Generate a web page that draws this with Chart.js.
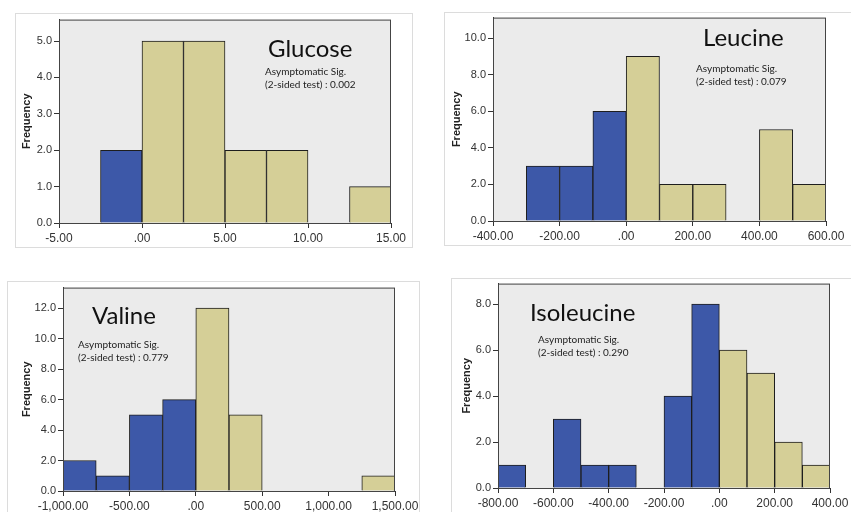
<!DOCTYPE html>
<html>
<head>
<meta charset="utf-8">
<script src="https://cdn.jsdelivr.net/npm/chart.js@4.4.1/dist/chart.umd.min.js"></script>
<style>
  body { margin: 0; background: #fff; width: 851px; height: 512px; overflow: hidden; position: relative; }
  canvas { position: absolute; }
  .frame { position: absolute; border: 1px solid #dcdcdc; }
  .name { position: absolute; font-family: Lato, sans-serif; font-size: 24px; line-height: 28px; color: #111; white-space: nowrap; }
  .sig { position: absolute; font-family: Lato, sans-serif; font-size: 10px; line-height: 13px; color: #222; white-space: nowrap; }
</style>
</head>
<body>
<div class="frame" style="left:15px;top:13px;width:396px;height:233px"></div>
<div class="frame" style="left:444px;top:12px;width:420px;height:232px"></div>
<div class="frame" style="left:7px;top:281px;width:411px;height:240px"></div>
<div class="frame" style="left:451px;top:278px;width:420px;height:240px"></div>

<canvas id="glucose"></canvas>
<canvas id="leucine"></canvas>
<canvas id="valine"></canvas>
<canvas id="isoleucine"></canvas>

<div class="name" style="left:268px;top:34px">Glucose</div>
<div class="sig" style="left:265px;top:65px">Asymptomatic Sig.<br>(2-sided test) : 0.002</div>
<div class="name" style="left:703px;top:23px">Leucine</div>
<div class="sig" style="left:696px;top:62px">Asymptomatic Sig.<br>(2-sided test) : 0.079</div>
<div class="name" style="left:92px;top:301px">Valine</div>
<div class="sig" style="left:78px;top:338px">Asymptomatic Sig.<br>(2-sided test) : 0.779</div>
<div class="name" style="left:530px;top:298px">Isoleucine</div>
<div class="sig" style="left:538px;top:333px">Asymptomatic Sig.<br>(2-sided test) : 0.290</div>

<script>
// histogram bins: left edge of each bin, bin width, and counts
var glucoseStarts = [-2.5, 0, 2.5, 5, 7.5, 10, 12.5];
var glucoseWidth = 2.5;
var glucoseCounts = [2, 5, 5, 2, 2, 0, 1];
var glucoseXTicks = [-5, 0, 5, 10, 15];
var glucoseYTicks = [0, 1, 2, 3, 4, 5];

var leucineStarts = [-300, -200, -100, 0, 100, 200, 300, 400, 500];
var leucineWidth = 100;
var leucineCounts = [3, 3, 6, 9, 2, 2, 0, 5, 2];
var leucineXTicks = [-400, -200, 0, 200, 400, 600];
var leucineYTicks = [0, 2, 4, 6, 8, 10];

var valineStarts = [-1000, -750, -500, -250, 0, 250, 500, 750, 1000, 1250];
var valineWidth = 250;
var valineCounts = [2, 1, 5, 6, 12, 5, 0, 0, 0, 1];
var valineXTicks = [-1000, -500, 0, 500, 1000, 1500];
var valineYTicks = [0, 2, 4, 6, 8, 10, 12];

var isoleucineStarts = [-800, -700, -600, -500, -400, -300, -200, -100, 0, 100, 200, 300];
var isoleucineWidth = 100;
var isoleucineCounts = [1, 0, 3, 1, 1, 0, 4, 8, 6, 5, 2, 1];
var isoleucineXTicks = [-800, -600, -400, -200, 0, 200, 400];
var isoleucineYTicks = [0, 2, 4, 6, 8];

var blue = '#3d58a8';
var tan = '#d5cf97';

function fmtX(v) {
  var s = Math.abs(v).toFixed(2).replace(/\B(?=(\d{3})+(?!\d))/g, ',');
  if (s.indexOf('0.') === 0) s = s.slice(1);
  return (v < 0 ? '-' : '') + s;
}

var plotBox = {
  id: 'plotBox',
  beforeDraw: function (chart) {
    var a = chart.chartArea, c = chart.ctx;
    c.save();
    c.fillStyle = '#ebebeb';
    c.fillRect(a.left, a.top, a.right - a.left, a.bottom - a.top);
    c.restore();
  },
  afterDatasetsDraw: function (chart) {
    var a = chart.chartArea, c = chart.ctx;
    c.save();
    c.strokeStyle = '#444';
    c.lineWidth = 1;
    c.strokeRect(a.left + 0.5, a.top + 0.5, a.right - a.left - 1, a.bottom - a.top);
    c.restore();
  }
};

// box = plot area in page pixels, titleX = centre of the "Frequency" label
function buildChart(id, starts, width, counts, xTicks, yTicks, yMax, box, titleX) {
  var left = titleX - 7, top = box.t - 4;
  var cw = box.r + 40 - left, ch = box.b + 28 - top;
  var el = document.getElementById(id);
  el.width = cw; el.height = ch;
  el.style.left = left + 'px'; el.style.top = top + 'px';

  var points = [], colors = [];
  for (var i = 0; i < starts.length; i++) {
    points.push({ x: starts[i] + width / 2, y: counts[i] });
    colors.push(starts[i] < 0 ? blue : tan);
  }

  new Chart(el, {
    type: 'bar',
    data: {
      datasets: [{
        data: points,
        backgroundColor: colors,
        borderColor: '#1e1e1e',
        borderWidth: 1,
        barPercentage: 1,
        categoryPercentage: 1
      }]
    },
    options: {
      responsive: false,
      animation: false,
      layout: { padding: { top: 4, right: 40, left: 0, bottom: 0 } },
      plugins: { legend: { display: false }, tooltip: { enabled: false } },
      scales: {
        x: {
          type: 'linear',
          offset: false,
          min: xTicks[0],
          max: xTicks[xTicks.length - 1],
          afterBuildTicks: function (s) { s.ticks = xTicks.map(function (v) { return { value: v }; }); },
          afterFit: function (s) { s.height = 28; },
          grid: { offset: false, drawOnChartArea: false, tickLength: 5, color: '#333' },
          border: { color: '#333' },
          ticks: {
            autoSkip: false, maxRotation: 0, padding: 3,
            color: '#333', font: { family: 'Liberation Sans', size: 12 },
            callback: function (v) { return fmtX(v); }
          }
        },
        y: {
          min: 0,
          max: yMax,
          afterBuildTicks: function (s) { s.ticks = yTicks.map(function (v) { return { value: v }; }); },
          afterFit: function (s) { s.width = box.l - left; },
          grid: { drawOnChartArea: false, tickLength: 5, color: '#333' },
          border: { color: '#333' },
          title: {
            display: true, text: 'Frequency', color: '#222',
            padding: { top: 0, bottom: 0 },
            font: { family: 'Liberation Sans', size: 11, weight: 'bold' }
          },
          ticks: {
            padding: 2, color: '#333', font: { family: 'Liberation Sans', size: 11 },
            callback: function (v) { return v.toFixed(1); }
          }
        }
      }
    },
    plugins: [plotBox]
  });
}

buildChart('glucose', glucoseStarts, glucoseWidth, glucoseCounts, glucoseXTicks, glucoseYTicks, 5.59,
  { l: 59, t: 15, r: 391, b: 223 }, 27);
buildChart('leucine', leucineStarts, leucineWidth, leucineCounts, leucineXTicks, leucineYTicks, 11.12,
  { l: 493, t: 13, r: 826, b: 221 }, 457);
buildChart('valine', valineStarts, valineWidth, valineCounts, valineXTicks, valineYTicks, 13.35,
  { l: 63, t: 283, r: 395, b: 491 }, 27);
buildChart('isoleucine', isoleucineStarts, isoleucineWidth, isoleucineCounts, isoleucineXTicks, isoleucineYTicks, 8.89,
  { l: 498, t: 279, r: 830, b: 488 }, 467);
</script>
</body>
</html>
